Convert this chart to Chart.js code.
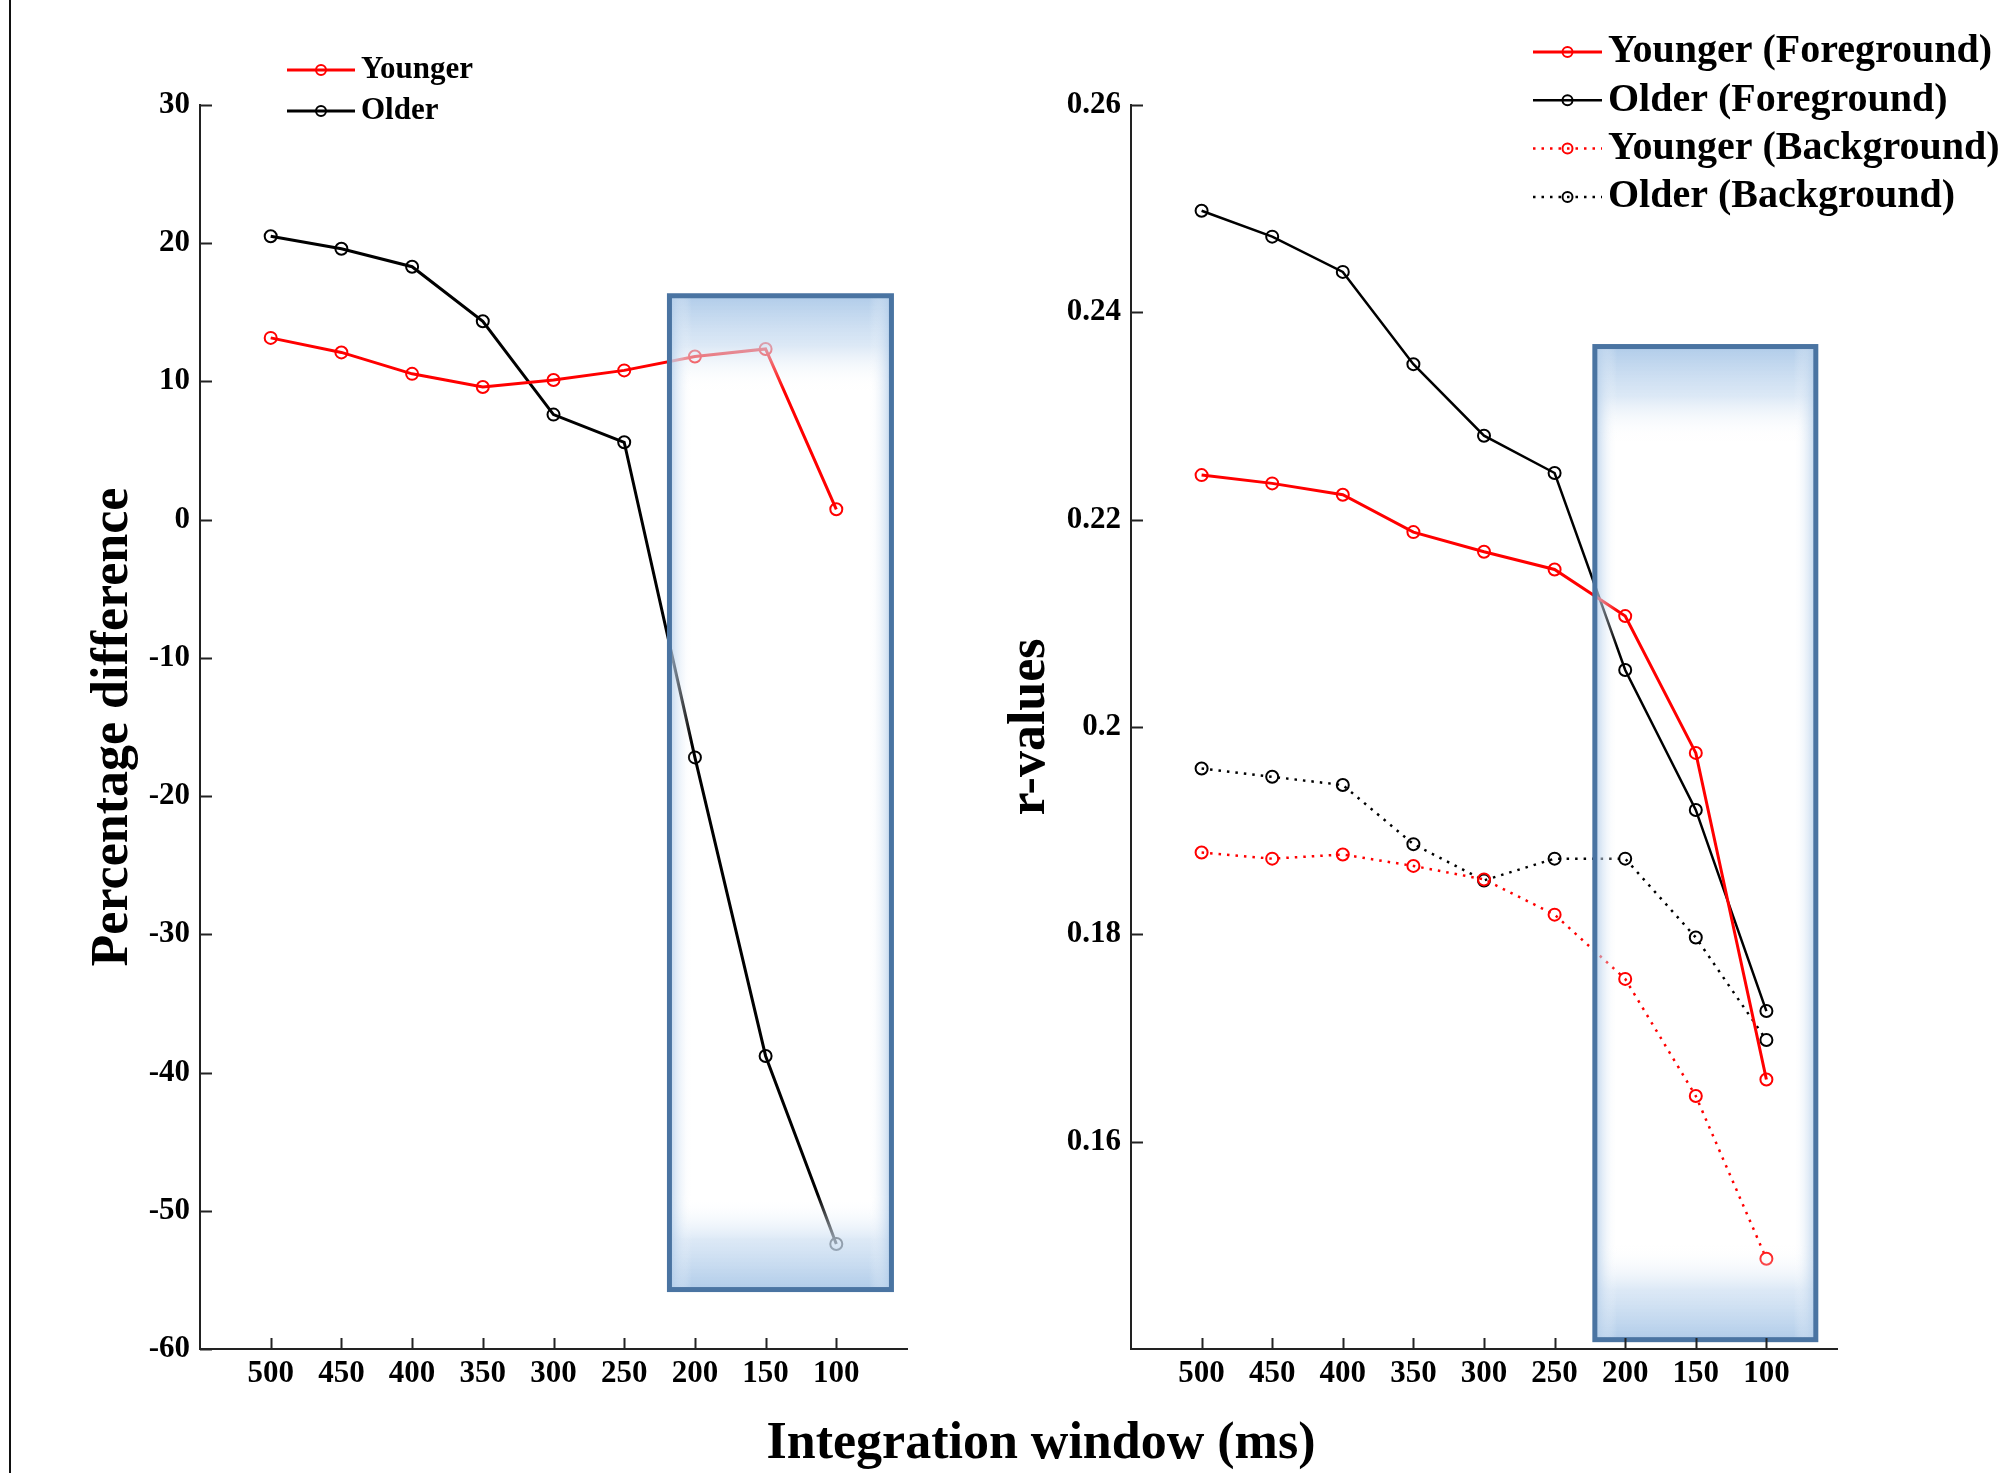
<!DOCTYPE html>
<html lang="en">
<head>
<meta charset="UTF-8">
<title>Integration window</title>
<script src="https://cdn.jsdelivr.net/npm/chart.js"></script>
<style>
  body { margin: 0; background: #fff; }
  #page { position: relative; width: 2001px; height: 1473px; overflow: hidden; background: #fff; }
  #frame { position: absolute; left: 9px; top: 0; width: 2px; height: 1473px; background: #111; }
  #leftChart { position: absolute; left: 0; top: 0; }
  #rightChart { position: absolute; left: 1000px; top: 0; }
  #xTitle {
    position: absolute; left: 1041px; top: 1415px; transform: translateX(-50%);
    font-family: 'Liberation Serif', 'Times New Roman', serif;
    font-weight: bold; font-size: 52px; line-height: 52px; white-space: nowrap; color: #000;
  }
</style>
</head>
<body>
<div id="page">
  <div id="frame"></div>
  <canvas id="leftChart" width="1000" height="1473"></canvas>
  <canvas id="rightChart" width="1001" height="1473"></canvas>
  <div id="xTitle">Integration window (ms)</div>
</div>

<script>
// integration windows (ms), plotted from long to short
const windows = [500, 450, 400, 350, 300, 250, 200, 150, 100];
const xTicks = [500, 450, 400, 350, 300, 250, 200, 150, 100];

// left panel: percentage difference
const pctYounger = [13.15, 12.1, 10.55, 9.6, 10.1, 10.8, 11.8, 12.35, 0.75];
const pctOlder = [20.5, 19.6, 18.3, 14.35, 7.6, 5.6, -17.2, -38.8, -52.4];
const leftYTicks = [-60, -50, -40, -30, -20, -10, 0, 10, 20, 30];

// right panel: r-values
const rYoungerFg = [0.2243, 0.2235, 0.2224, 0.2188, 0.2169, 0.2152, 0.2107, 0.1975, 0.1660];
const rOlderFg = [0.2498, 0.2473, 0.2439, 0.2350, 0.2281, 0.2245, 0.2055, 0.1920, 0.1726];
const rYoungerBg = [0.1879, 0.1873, 0.1877, 0.1866, 0.1853, 0.1819, 0.1757, 0.1644, 0.1487];
const rOlderBg = [0.1960, 0.1952, 0.1944, 0.1887, 0.1852, 0.1873, 0.1873, 0.1797, 0.1698];
const rightYTicks = [0.16, 0.18, 0.2, 0.22, 0.24, 0.26];

// shaded window (x range in ms, y range in axis units)
const leftBoxX = [218, 61];
const leftBoxY = [16.2, -55.7];
const rightBoxX = [221.5, 65];
const rightBoxY = [0.2367, 0.1409];

const serif = "'Liberation Serif', 'Times New Roman', serif";
const pts = arr => windows.map((w, i) => ({x: w, y: arr[i]}));

const tickMarks = {
  id: 'tickMarks',
  afterDraw(chart) {
    const {ctx, chartArea, scales: {x, y}} = chart;
    ctx.save();
    ctx.strokeStyle = '#222';
    ctx.lineWidth = 2;
    ctx.beginPath();
    x.ticks.forEach(t => {
      const px = Math.round(x.getPixelForValue(t.value)) + 0.5;
      ctx.moveTo(px, chartArea.bottom);
      ctx.lineTo(px, chartArea.bottom - 11);
    });
    y.ticks.forEach(t => {
      const py = Math.round(y.getPixelForValue(t.value)) + 0.5;
      ctx.moveTo(chartArea.left, py);
      ctx.lineTo(chartArea.left + 12, py);
    });
    ctx.stroke();
    ctx.restore();
  }
};

const highlightBox = {
  id: 'highlightBox',
  afterDatasetsDraw(chart, args, opts) {
    const {ctx, scales: {x, y}} = chart;
    const l = x.getPixelForValue(opts.x[0]), r = x.getPixelForValue(opts.x[1]);
    const t = y.getPixelForValue(opts.y[0]), b = y.getPixelForValue(opts.y[1]);
    const w = r - l, h = b - t;
    ctx.save();
    const gv = ctx.createLinearGradient(0, t, 0, b);
    gv.addColorStop(0, 'rgba(172,201,232,0.95)');
    gv.addColorStop(0.05, 'rgba(205,223,242,0.7)');
    gv.addColorStop(0.095, 'rgba(255,255,255,0)');
    gv.addColorStop(0.905, 'rgba(255,255,255,0)');
    gv.addColorStop(0.95, 'rgba(205,223,242,0.7)');
    gv.addColorStop(1, 'rgba(172,201,232,0.95)');
    ctx.fillStyle = gv;
    ctx.fillRect(l, t, w, h);
    const gh = ctx.createLinearGradient(l, 0, r, 0);
    gh.addColorStop(0, 'rgba(172,201,232,0.8)');
    gh.addColorStop(0.1, 'rgba(255,255,255,0)');
    gh.addColorStop(0.9, 'rgba(255,255,255,0)');
    gh.addColorStop(1, 'rgba(172,201,232,0.8)');
    ctx.fillStyle = gh;
    ctx.fillRect(l, t, w, h);
    ctx.strokeStyle = '#4a74a2';
    ctx.lineWidth = 5;
    ctx.strokeRect(l, t, w, h);
    ctx.restore();
  }
};

// line + marker legend, like the original figure
const sampleLegend = {
  id: 'sampleLegend',
  afterDraw(chart, args, opts) {
    const {ctx} = chart;
    ctx.save();
    chart.data.datasets.forEach((ds, i) => {
      const y = opts.y + i * opts.gap;
      ctx.strokeStyle = ds.borderColor;
      ctx.lineWidth = ds.borderWidth;
      ctx.setLineDash(ds.borderDash || []);
      ctx.beginPath();
      ctx.moveTo(opts.x, y);
      ctx.lineTo(opts.x + opts.len, y);
      ctx.stroke();
      ctx.setLineDash([]);
      ctx.lineWidth = 2;
      ctx.beginPath();
      ctx.arc(opts.x + opts.len / 2, y, 5, 0, Math.PI * 2);
      ctx.stroke();
      ctx.fillStyle = '#000';
      ctx.font = 'bold ' + opts.size + 'px ' + serif;
      ctx.textBaseline = 'middle';
      ctx.textAlign = 'left';
      ctx.fillText(ds.label, opts.x + opts.len + 6, y);
    });
    ctx.restore();
  }
};

function line(label, data, color, width, dash) {
  return {
    label, data: pts(data), borderColor: color, borderWidth: width, borderDash: dash,
    pointRadius: 6, pointBorderWidth: 2, pointBorderColor: color,
    pointBackgroundColor: 'rgba(0,0,0,0)', tension: 0, fill: false
  };
}

function makeChart(id, datasets, yMin, yMax, yTicks, yTitle, titlePad, yWidth, padRight, legend, box) {
  const tickFont = {family: serif, size: 31, weight: 'bold'};
  return new Chart(document.getElementById(id), {
    type: 'line',
    data: {datasets},
    options: {
      responsive: false,
      animation: false,
      layout: {padding: {top: 105, right: padRight, left: 0, bottom: 0}},
      plugins: {
        legend: {display: false},
        tooltip: {enabled: false},
        sampleLegend: legend,
        highlightBox: box
      },
      scales: {
        x: {
          type: 'linear', min: 50, max: 550, reverse: true,
          afterBuildTicks: s => { s.ticks = xTicks.map(v => ({value: v})); },
          afterFit: s => { s.height = 124; },
          grid: {display: false, drawTicks: false},
          border: {display: true, color: '#222', width: 2},
          ticks: {color: '#000', font: tickFont, padding: 6, maxRotation: 0, autoSkip: false}
        },
        y: {
          type: 'linear', min: yMin, max: yMax,
          afterBuildTicks: s => { s.ticks = yTicks.map(v => ({value: v})); },
          afterFit: s => { s.width = yWidth; },
          grid: {display: false, drawTicks: false},
          border: {display: true, color: '#222', width: 2},
          ticks: {color: '#000', font: tickFont, padding: 10, callback: v => String(+v.toFixed(2))},
          title: {
            display: true, text: yTitle, color: '#000',
            font: {family: serif, size: 52, weight: 'bold', lineHeight: 1},
            padding: {top: titlePad, bottom: 0}
          }
        }
      }
    },
    plugins: [highlightBox, tickMarks, sampleLegend]
  });
}

makeChart('leftChart', [
  line('Younger', pctYounger, '#ff0000', 3),
  line('Older', pctOlder, '#000000', 3)
], -60, 30, leftYTicks, 'Percentage difference', 88, 200, 93,
  {x: 287, y: 70, gap: 41, len: 68, size: 31},
  {x: leftBoxX, y: leftBoxY});

makeChart('rightChart', [
  line('Younger (Foreground)', rYoungerFg, '#ff0000', 3),
  line('Older (Foreground)', rOlderFg, '#000000', 2.5),
  line('Younger (Background)', rYoungerBg, '#ff0000', 2.5, [2.5, 6]),
  line('Older (Background)', rOlderBg, '#000000', 2.5, [2.5, 6])
], 0.14, 0.26, rightYTicks, 'r-values', 5, 131, 164,
  {x: 533, y: 52, gap: 48.3, len: 69, size: 40},
  {x: rightBoxX, y: rightBoxY});
</script>
</body>
</html>
